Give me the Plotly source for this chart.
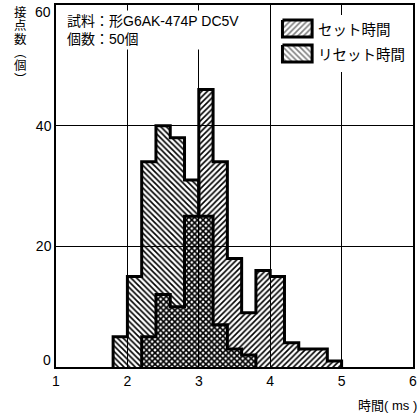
import plotly.graph_objects as go

# ---------------- data ----------------
bin_width = 0.2
set_bin_left = [2.2, 2.4, 2.6, 2.8, 3.0, 3.2, 3.4, 3.6, 3.8, 4.0, 4.2, 4.4, 4.6, 4.8]
set_counts = [5, 12, 10, 25, 46, 34, 18, 9, 16, 15, 4, 3, 3, 1]
reset_bin_left = [1.8, 2.0, 2.2, 2.4, 2.6, 2.8, 3.0, 3.2, 3.4, 3.6]
reset_counts = [5, 15, 34, 40, 38, 31, 25, 7, 3, 2]
x_ticks = [1, 2, 3, 4, 5, 6]
y_ticks = [0, 20, 40, 60]
series_names = ["セット時間", "リセット時間"]
sample_lines = ["試料：形G6AK-474P DC5V", "個数：50個"]
x_title = "時間( ms )"
y_title_chars = ["接", "点", "数", "︵", "個", "︶"]

# ---------------- layout helpers ----------------
W, H = 420, 418
ML, MR, MT, MB = 56, 3, 5, 51
PW, PH = W - ML - MR, H - MT - MB
FONT = "Liberation Sans, Arial, Noto Sans CJK JP, sans-serif"


def px_x(p):
    return (p - ML) / PW


def px_y(p):
    return (H - MB - p) / PH


def step_outline(lefts, counts, width):
    xs = [lefts[0]] + list(lefts) + [lefts[-1] + width]
    ys = [0] + list(counts) + [0]
    return xs, ys


fig = go.Figure()

series = [
    (reset_bin_left, reset_counts, "\\", series_names[1]),
    (set_bin_left, set_counts, "/", series_names[0]),
]

for lefts, counts, shape, name in series:
    fig.add_trace(go.Bar(
        x=lefts, y=counts, width=bin_width, offset=0, name=name,
        marker=dict(color="rgba(0,0,0,0)", line=dict(width=0),
                    pattern=dict(shape=shape, fgcolor="black",
                                 bgcolor="rgba(0,0,0,0)", size=4,
                                 solidity=0.4, fillmode="replace")),
        showlegend=False, hoverinfo="skip",
    ))

for lefts, counts, shape, name in series:
    xs, ys = step_outline(lefts, counts, bin_width)
    fig.add_trace(go.Scatter(
        x=xs, y=ys, mode="lines", line=dict(color="black", width=3, shape="hv"),
        showlegend=False, hoverinfo="skip",
    ))

# ---------------- custom legend (own small subplot in pixel units) ----------------
LEG_X0, LEG_X1, LEG_Y0, LEG_Y1 = 276, 414, 15, 72
fig.add_trace(go.Scatter(
    x=[LEG_X0, LEG_X1, LEG_X1, LEG_X0, LEG_X0],
    y=[LEG_Y0, LEG_Y0, LEG_Y1, LEG_Y1, LEG_Y0],
    fill="toself", fillcolor="white", mode="lines",
    line=dict(color="white", width=0), xaxis="x2", yaxis="y2",
    showlegend=False, hoverinfo="skip",
))
swatches = [(20, 37, "/", series_names[0]), (45, 62, "\\", series_names[1])]
for y0, y1, shape, name in swatches:
    fig.add_trace(go.Scatter(
        x=[285, 315, 315, 285, 285], y=[y0, y0, y1, y1, y0],
        fill="toself", mode="lines", fillcolor="rgba(0,0,0,0)",
        fillpattern=dict(shape=shape, fgcolor="black", bgcolor="white",
                         size=4, solidity=0.4),
        line=dict(color="black", width=3), xaxis="x2", yaxis="y2",
        showlegend=False, hoverinfo="skip",
    ))
    fig.add_annotation(x=319, y=(y0 + y1) / 2 + 1.5, xref="x2", yref="y2",
                       text=name, showarrow=False, xanchor="left",
                       yanchor="middle", font=dict(size=14.5, color="black", family=FONT))

axis_common = dict(showgrid=True, gridcolor="black", gridwidth=1,
                   showline=True, mirror=True, linecolor="black", linewidth=1.5,
                   ticks="", zeroline=False, fixedrange=True,
                   tickfont=dict(size=14, color="black", family=FONT))

# end labels of the y axis sit slightly inside the frame, drawn separately
y_ticktext = ["" if v in (y_ticks[0], y_ticks[-1]) else str(v) for v in y_ticks]

fig.update_layout(
    width=W, height=H,
    margin=dict(l=ML, r=MR, t=MT, b=MB, pad=0),
    paper_bgcolor="white", plot_bgcolor="white",
    barmode="overlay", bargap=0,
    font=dict(family=FONT, color="black"),
    xaxis=dict(range=[1, 6], tickvals=x_ticks, **axis_common),
    yaxis=dict(range=[0, 60], tickvals=y_ticks, ticktext=y_ticktext, **axis_common),
    xaxis2=dict(domain=[px_x(LEG_X0), px_x(LEG_X1)], range=[LEG_X0, LEG_X1],
                visible=False, anchor="y2", fixedrange=True),
    yaxis2=dict(domain=[px_y(LEG_Y1), px_y(LEG_Y0)], range=[LEG_Y1, LEG_Y0],
                visible=False, anchor="x2", fixedrange=True),
    showlegend=False,
)

for val, yc in ((y_ticks[0], 360), (y_ticks[-1], 12)):
    fig.add_annotation(x=px_x(53), y=px_y(yc), xref="paper", yref="paper",
                       text=str(val), showarrow=False, xanchor="right",
                       yanchor="middle", font=dict(size=14, color="black", family=FONT))

# sample info box
fig.add_annotation(x=px_x(64), y=px_y(10), xref="paper", yref="paper",
                   text="<br>".join(sample_lines), showarrow=False,
                   xanchor="left", yanchor="top", align="left",
                   bgcolor="white", borderpad=2,
                   font=dict(size=14, color="black", family=FONT))

# x-axis title
fig.add_annotation(x=px_x(423), y=px_y(405), xref="paper", yref="paper",
                   text=x_title, showarrow=False, xanchor="right",
                   yanchor="middle", font=dict(size=13, color="black", family=FONT))

# vertical y-axis title: one upright character per row (tight line spacing)
y_title_text = "<br>".join(
    '<span style="font-size:12.5px">%s</span>' % ch for ch in y_title_chars)
fig.add_annotation(x=px_x(20), y=px_y(46), xref="paper", yref="paper",
                   text=y_title_text, showarrow=False, xanchor="center",
                   yanchor="middle", align="center",
                   font=dict(size=10.25, color="black", family=FONT))

fig.write_html("out.html")
